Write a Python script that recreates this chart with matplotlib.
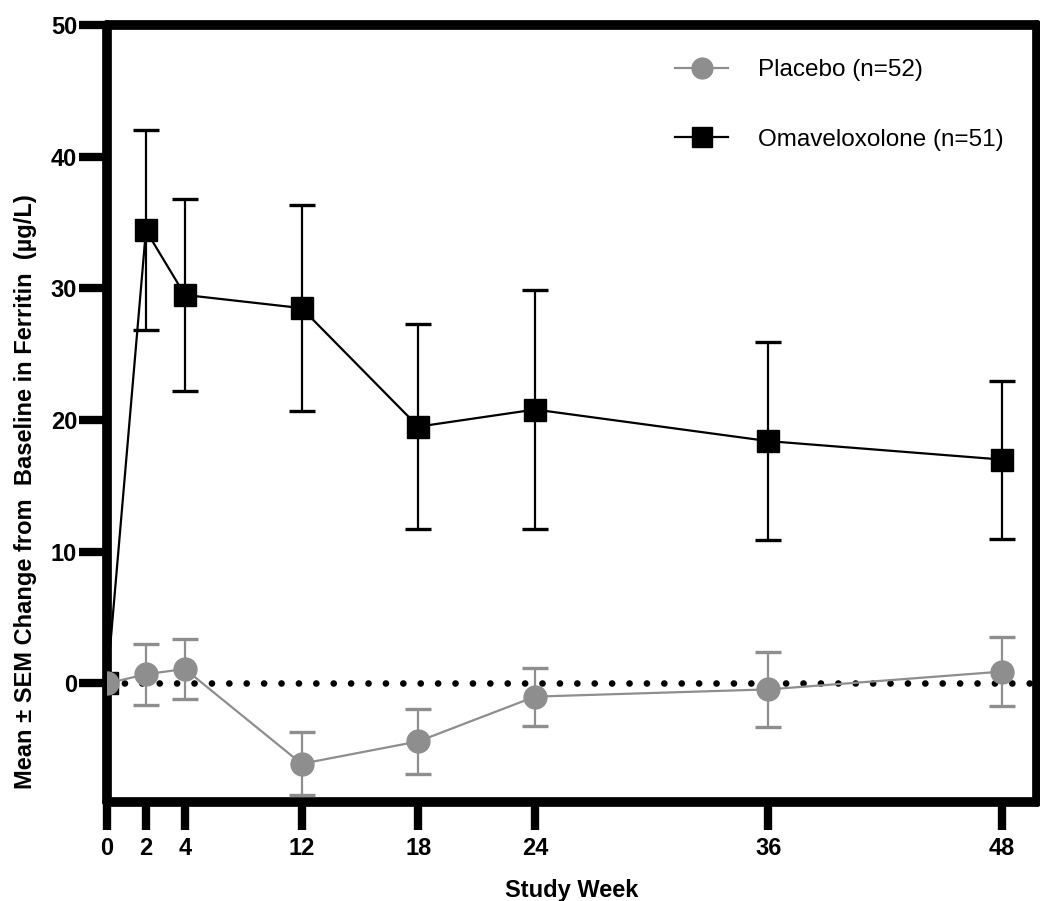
import numpy as np
import matplotlib
matplotlib.use("Agg")
import matplotlib.pyplot as plt
from matplotlib.lines import Line2D

#### data
weeks = [0, 2, 4, 12, 18, 24, 36, 48]

omav_mean = [0, 34.4, 29.5, 28.5, 19.5, 20.8, 18.4, 17.0]
omav_sem = [np.nan, 7.6, 7.3, 7.8, 7.8, 9.1, 7.5, 6.0]

placebo_mean = [0, 0.7, 1.1, -6.1, -4.4, -1.0, -0.45, 0.9]
placebo_sem = [np.nan, 2.3, 2.3, 2.4, 2.45, 2.2, 2.85, 2.65]

y_ticks = [0, 10, 20, 30, 40, 50]
labels = ["Placebo (n=52)", "Omaveloxolone (n=51)"]

## study weeks are spaced unevenly on the axis (4 -> 12 is squeezed)
week_knots = [-10, 0, 4, 12, 60]
axis_knots = [-10, 0, 4, 10, 58]

def fwd(w):
    return np.interp(w, week_knots, axis_knots)

def inv(p):
    return np.interp(p, axis_knots, week_knots)

plt.rcParams['font.family'] = ['Liberation Sans', 'DejaVu Sans']

grey = "#8e8e8e"

fig = plt.figure(figsize=(10.4, 9.01), dpi=100)
ax = fig.add_axes([0.1029, 0.1099, 0.8942, 0.8624])
ax.set_xscale("function", functions=(fwd, inv))

## zero reference line (round dots)
ax.axhline(0, color="black", linestyle=(0, (0.01, 2.6)), linewidth=4.8,
           dash_capstyle="round", zorder=1)

## omaveloxolone
ax.errorbar(weeks, omav_mean, yerr=omav_sem, color="black",
            marker="s", markersize=16.5, linewidth=1.6,
            elinewidth=1.6, capsize=9.5, capthick=2.4, zorder=3)

## placebo
ax.errorbar(weeks, placebo_mean, yerr=placebo_sem, color=grey,
            marker="o", markersize=16.5, linewidth=1.6,
            elinewidth=1.6, capsize=9.5, capthick=2.4, zorder=4)

ax.set_xlim(0, 49.8)
ax.set_ylim(-9, 50)

ax.set_xticks(weeks)
ax.set_xticklabels([str(w) for w in weeks])
ax.set_yticks(y_ticks)
ax.minorticks_off()

for side in ["left", "bottom", "top", "right"]:
    ax.spines[side].set_linewidth(7)
    ax.spines[side].set_capstyle("round")

ax.tick_params(axis="both", which="major", direction="out", length=20,
               width=6, color="black", labelsize=17)
ax.tick_params(axis="x", pad=5)
ax.tick_params(axis="y", pad=1.5)
for lab in ax.get_xticklabels() + ax.get_yticklabels():
    lab.set_fontweight("bold")

ax.set_ylabel("Mean \u00b1 SEM Change from  Baseline in Ferritin  (\u00b5g/L)",
              fontsize=17, fontweight="bold")
ax.yaxis.set_label_coords(-0.075, 0.40)
ax.set_xlabel("Study Week", fontsize=17, fontweight="bold", labelpad=14)

## legend, placebo listed first
handles = [
    Line2D([], [], color=grey, marker="o", markersize=15, linewidth=1.6),
    Line2D([], [], color="black", marker="s", markersize=15, linewidth=1.6),
]
fig.legend(handles, labels, loc="upper left", bbox_to_anchor=(0.649, 0.934),
           frameon=False, fontsize=17.5, handlelength=2.2, labelspacing=1.95,
           handletextpad=1.2, borderpad=0, borderaxespad=0)

plt.savefig("out.png", dpi=100)
